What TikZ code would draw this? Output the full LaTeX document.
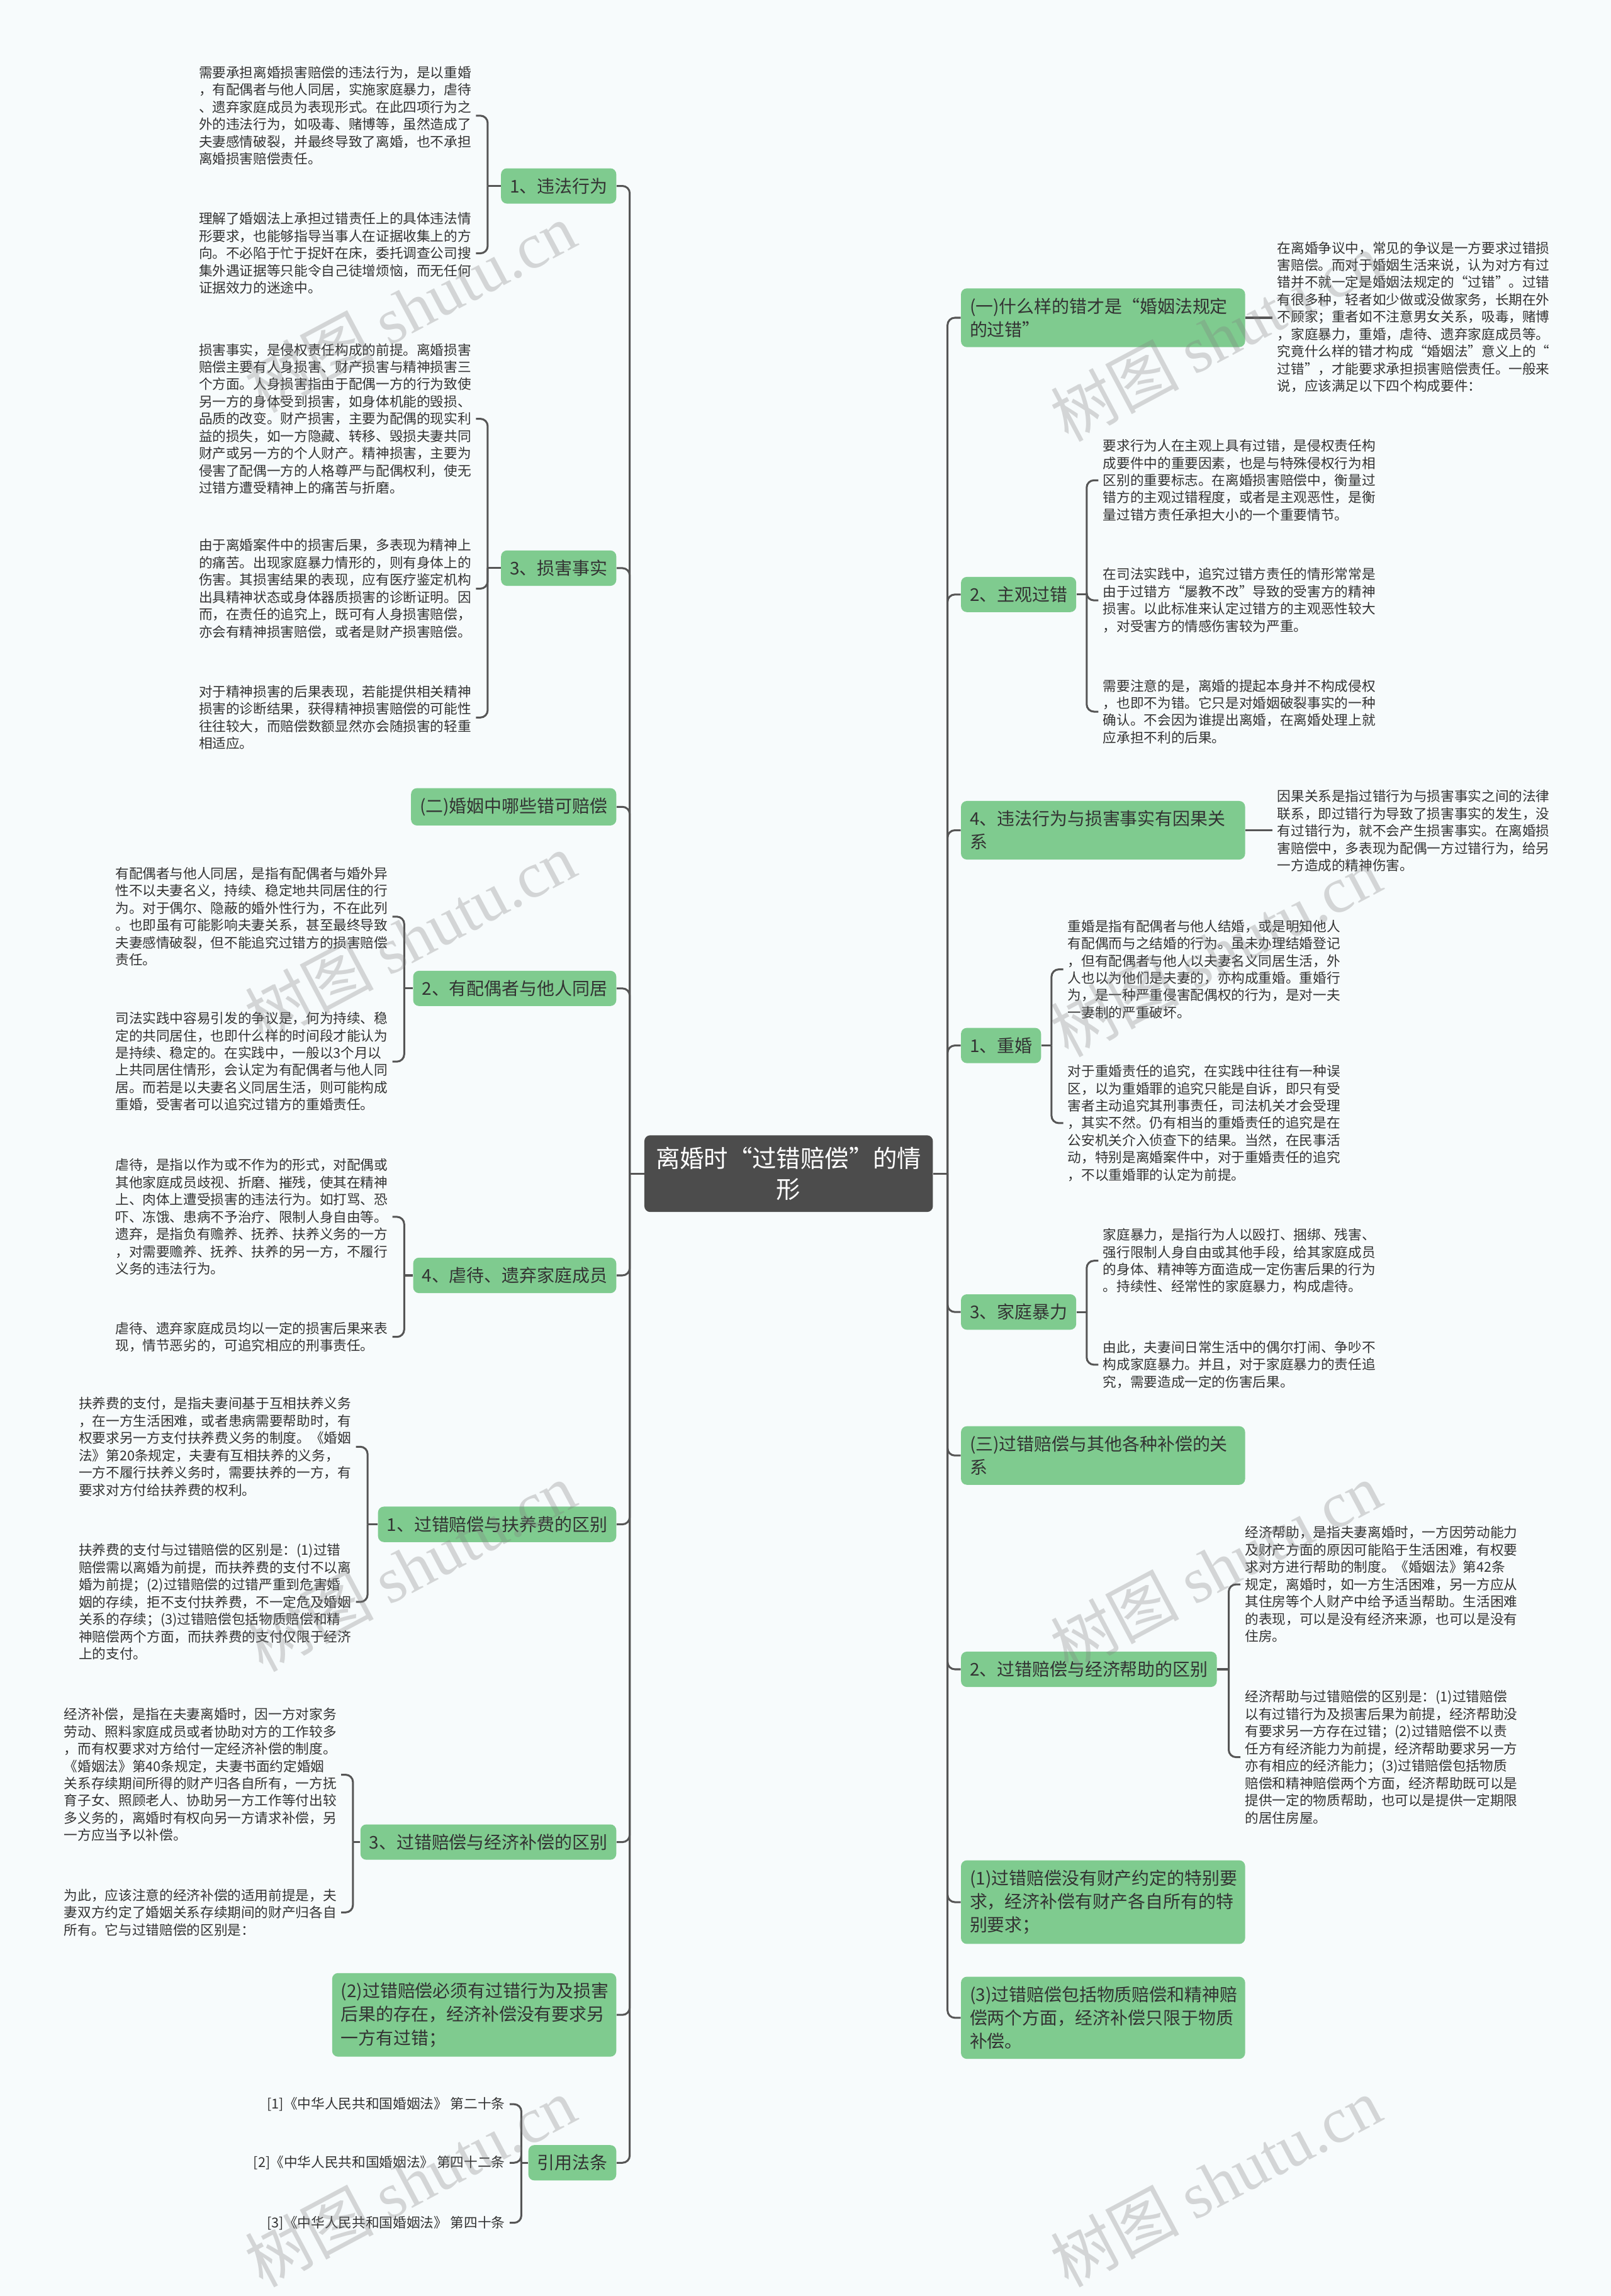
\documentclass[tikz,border=0pt]{standalone}
\usepackage{fontspec}
\setmainfont{Noto Sans CJK SC}
\newfontfamily\wmserif{Liberation Serif}
\usetikzlibrary{positioning}
\definecolor{bgpaper}{RGB}{247,251,252}
\definecolor{mapgreen}{RGB}{127,203,143}
\definecolor{rootgray}{RGB}{76,76,76}
\definecolor{linkgray}{RGB}{85,85,85}
\definecolor{inkgray}{RGB}{51,51,51}
\tikzset{
  topic/.style={fill=mapgreen,rounded corners=4pt,text=inkgray,inner xsep=6pt,inner ysep=6.5pt,font=\fontsize{12}{16}\selectfont},
  topicwide/.style={topic,text width=182pt,align=left},
  leaf/.style={text=inkgray,inner sep=3pt,align=left,font=\fontsize{9.3}{11.8}\selectfont},
  link/.style={draw=linkgray,line width=1.3pt,rounded corners=5pt}
}
\begin{document}
\begin{tikzpicture}[x=1pt,y=-1pt]
  \fill[bgpaper] (0,0) rectangle (1100,1568);
  \useasboundingbox (0,0) rectangle (1100,1568);

  % centre
  \node[fill=rootgray,text=white,rounded corners=4pt,text width=183pt,align=center,inner xsep=7pt,inner ysep=8pt,font=\fontsize{16.5}{21}\selectfont] (root) at (538.5,801.5) {离婚时“过错赔偿”的情\\形};
  \coordinate (lspine) at (430,0);
  \coordinate (rspine) at (647,0);

  % left topics
  \node[topic,anchor=east] (t1) at (421,127) {1、违法行为};
  \node[topic,anchor=east] (t2) at (421,388) {3、损害事实};
  \node[topic,anchor=east] (t3) at (421,551) {(二)婚姻中哪些错可赔偿};
  \node[topic,anchor=east] (t4) at (421,675) {2、有配偶者与他人同居};
  \node[topic,anchor=east] (t5) at (421,871) {4、虐待、遗弃家庭成员};
  \node[topic,anchor=east] (t6) at (421,1041) {1、过错赔偿与扶养费的区别};
  \node[topic,anchor=east] (t7) at (421,1258) {3、过错赔偿与经济补偿的区别};
  \node[topicwide,anchor=east] (t8) at (421,1376) {(2)过错赔偿必须有过错行为及损害\\后果的存在，经济补偿没有要求另\\一方有过错；};
  \node[topic,anchor=east] (t9) at (421,1477) {引用法条};

  % right topics
  \node[topicwide,anchor=west] (r1) at (656,217) {(一)什么样的错才是“婚姻法规定\\的过错”};
  \node[topic,anchor=west] (r2) at (656,406) {2、主观过错};
  \node[topicwide,anchor=west] (r3) at (656,567) {4、违法行为与损害事实有因果关\\系};
  \node[topic,anchor=west] (r4) at (656,714) {1、重婚};
  \node[topic,anchor=west] (r5) at (656,896) {3、家庭暴力};
  \node[topicwide,anchor=west] (r6) at (656,994) {(三)过错赔偿与其他各种补偿的关\\系};
  \node[topic,anchor=west] (r7) at (656,1140) {2、过错赔偿与经济帮助的区别};
  \node[topicwide,anchor=west] (r8) at (656,1299) {(1)过错赔偿没有财产约定的特别要\\求，经济补偿有财产各自所有的特\\别要求；};
  \node[topicwide,anchor=west] (r9) at (656,1378) {(3)过错赔偿包括物质赔偿和精神赔\\偿两个方面，经济补偿只限于物质\\补偿。};

  % left leaves
  \node[leaf,anchor=east] (va) at (325,79) {需要承担离婚损害赔偿的违法行为，是以重婚\\，有配偶者与他人同居，实施家庭暴力，虐待\\、遗弃家庭成员为表现形式。在此四项行为之\\外的违法行为，如吸毒、赌博等，虽然造成了\\夫妻感情破裂，并最终导致了离婚，也不承担\\离婚损害赔偿责任。};
  \node[leaf,anchor=east] (vb) at (325,173) {理解了婚姻法上承担过错责任上的具体违法情\\形要求，也能够指导当事人在证据收集上的方\\向。不必陷于忙于捉奸在床，委托调查公司搜\\集外遇证据等只能令自己徒增烦恼，而无任何\\证据效力的迷途中。};
  \node[leaf,anchor=east] (sa) at (325,286) {损害事实，是侵权责任构成的前提。离婚损害\\赔偿主要有人身损害、财产损害与精神损害三\\个方面。人身损害指由于配偶一方的行为致使\\另一方的身体受到损害，如身体机能的毁损、\\品质的改变。财产损害，主要为配偶的现实利\\益的损失，如一方隐藏、转移、毁损夫妻共同\\财产或另一方的个人财产。精神损害，主要为\\侵害了配偶一方的人格尊严与配偶权利，使无\\过错方遭受精神上的痛苦与折磨。};
  \node[leaf,anchor=east] (sb) at (325,402) {由于离婚案件中的损害后果，多表现为精神上\\的痛苦。出现家庭暴力情形的，则有身体上的\\伤害。其损害结果的表现，应有医疗鉴定机构\\出具精神状态或身体器质损害的诊断证明。因\\而，在责任的追究上，既可有人身损害赔偿，\\亦会有精神损害赔偿，或者是财产损害赔偿。};
  \node[leaf,anchor=east] (sc) at (325,490) {对于精神损害的后果表现，若能提供相关精神\\损害的诊断结果，获得精神损害赔偿的可能性\\往往较大，而赔偿数额显然亦会随损害的轻重\\相适应。};
  \node[leaf,anchor=east] (pa) at (268,626) {有配偶者与他人同居，是指有配偶者与婚外异\\性不以夫妻名义，持续、稳定地共同居住的行\\为。对于偶尔、隐蔽的婚外性行为，不在此列\\。也即虽有可能影响夫妻关系，甚至最终导致\\夫妻感情破裂，但不能追究过错方的损害赔偿\\责任。};
  \node[leaf,anchor=east] (pb) at (268,725) {司法实践中容易引发的争议是，何为持续、稳\\定的共同居住，也即什么样的时间段才能认为\\是持续、稳定的。在实践中，一般以3个月以\\上共同居住情形，会认定为有配偶者与他人同\\居。而若是以夫妻名义同居生活，则可能构成\\重婚，受害者可以追究过错方的重婚责任。};
  \node[leaf,anchor=east] (na) at (268,831) {虐待，是指以作为或不作为的形式，对配偶或\\其他家庭成员歧视、折磨、摧残，使其在精神\\上、肉体上遭受损害的违法行为。如打骂、恐\\吓、冻饿、患病不予治疗、限制人身自由等。\\遗弃，是指负有赡养、抚养、扶养义务的一方\\，对需要赡养、抚养、扶养的另一方，不履行\\义务的违法行为。};
  \node[leaf,anchor=east] (nb) at (268,913) {虐待、遗弃家庭成员均以一定的损害后果来表\\现，情节恶劣的，可追究相应的刑事责任。};
  \node[leaf,anchor=east] (fa) at (243,988) {扶养费的支付，是指夫妻间基于互相扶养义务\\，在一方生活困难，或者患病需要帮助时，有\\权要求另一方支付扶养费义务的制度。《婚姻\\法》第20条规定，夫妻有互相扶养的义务，\\一方不履行扶养义务时，需要扶养的一方，有\\要求对方付给扶养费的权利。};
  \node[leaf,anchor=east] (fb) at (243,1094) {扶养费的支付与过错赔偿的区别是：(1)过错\\赔偿需以离婚为前提，而扶养费的支付不以离\\婚为前提；(2)过错赔偿的过错严重到危害婚\\姻的存续，拒不支付扶养费，不一定危及婚姻\\关系的存续；(3)过错赔偿包括物质赔偿和精\\神赔偿两个方面，而扶养费的支付仅限于经济\\上的支付。};
  \node[leaf,anchor=east] (ja) at (233,1212) {经济补偿，是指在夫妻离婚时，因一方对家务\\劳动、照料家庭成员或者协助对方的工作较多\\，而有权要求对方给付一定经济补偿的制度。\\《婚姻法》第40条规定，夫妻书面约定婚姻\\关系存续期间所得的财产归各自所有，一方抚\\育子女、照顾老人、协助另一方工作等付出较\\多义务的，离婚时有权向另一方请求补偿，另\\一方应当予以补偿。};
  \node[leaf,anchor=east] (jb) at (233,1306) {为此，应该注意的经济补偿的适用前提是，夫\\妻双方约定了婚姻关系存续期间的财产归各自\\所有。它与过错赔偿的区别是：};
  \node[leaf,anchor=east] (law1) at (348,1437) {[1]《中华人民共和国婚姻法》 第二十条};
  \node[leaf,anchor=east] (law2) at (348,1477) {[2]《中华人民共和国婚姻法》 第四十二条};
  \node[leaf,anchor=east] (law3) at (348,1518) {[3]《中华人民共和国婚姻法》 第四十条};

  % right leaves
  \node[leaf,anchor=west] (g1) at (869,216.5) {在离婚争议中，常见的争议是一方要求过错损\\害赔偿。而对于婚姻生活来说，认为对方有过\\错并不就一定是婚姻法规定的“过错”。过错\\有很多种，轻者如少做或没做家务，长期在外\\不顾家；重者如不注意男女关系，吸毒，赌博\\，家庭暴力，重婚，虐待、遗弃家庭成员等。\\究竟什么样的错才构成“婚姻法”意义上的“\\过错”，才能要求承担损害赔偿责任。一般来\\说，应该满足以下四个构成要件：};
  \node[leaf,anchor=west] (z1) at (750,328) {要求行为人在主观上具有过错，是侵权责任构\\成要件中的重要因素，也是与特殊侵权行为相\\区别的重要标志。在离婚损害赔偿中，衡量过\\错方的主观过错程度，或者是主观恶性，是衡\\量过错方责任承担大小的一个重要情节。};
  \node[leaf,anchor=west] (z2) at (750,410) {在司法实践中，追究过错方责任的情形常常是\\由于过错方“屡教不改”导致的受害方的精神\\损害。以此标准来认定过错方的主观恶性较大\\，对受害方的情感伤害较为严重。};
  \node[leaf,anchor=west] (z3) at (750,486) {需要注意的是，离婚的提起本身并不构成侵权\\，也即不为错。它只是对婚姻破裂事实的一种\\确认。不会因为谁提出离婚，在离婚处理上就\\应承担不利的后果。};
  \node[leaf,anchor=west] (y1) at (869,567.5) {因果关系是指过错行为与损害事实之间的法律\\联系，即过错行为导致了损害事实的发生，没\\有过错行为，就不会产生损害事实。在离婚损\\害赔偿中，多表现为配偶一方过错行为，给另\\一方造成的精神伤害。};
  \node[leaf,anchor=west] (c1) at (726,662) {重婚是指有配偶者与他人结婚，或是明知他人\\有配偶而与之结婚的行为。虽未办理结婚登记\\，但有配偶者与他人以夫妻名义同居生活，外\\人也以为他们是夫妻的，亦构成重婚。重婚行\\为，是一种严重侵害配偶权的行为，是对一夫\\一妻制的严重破坏。};
  \node[leaf,anchor=west] (c2) at (726,767) {对于重婚责任的追究，在实践中往往有一种误\\区，以为重婚罪的追究只能是自诉，即只有受\\害者主动追究其刑事责任，司法机关才会受理\\，其实不然。仍有相当的重婚责任的追究是在\\公安机关介入侦查下的结果。当然，在民事活\\动，特别是离婚案件中，对于重婚责任的追究\\，不以重婚罪的认定为前提。};
  \node[leaf,anchor=west] (h1) at (750,861) {家庭暴力，是指行为人以殴打、捆绑、残害、\\强行限制人身自由或其他手段，给其家庭成员\\的身体、精神等方面造成一定伤害后果的行为\\。持续性、经常性的家庭暴力，构成虐待。};
  \node[leaf,anchor=west] (h2) at (750,932) {由此，夫妻间日常生活中的偶尔打闹、争吵不\\构成家庭暴力。并且，对于家庭暴力的责任追\\究，需要造成一定的伤害后果。};
  \node[leaf,anchor=west] (e1) at (847,1082) {经济帮助，是指夫妻离婚时，一方因劳动能力\\及财产方面的原因可能陷于生活困难，有权要\\求对方进行帮助的制度。《婚姻法》第42条\\规定，离婚时，如一方生活困难，另一方应从\\其住房等个人财产中给予适当帮助。生活困难\\的表现，可以是没有经济来源，也可以是没有\\住房。};
  \node[leaf,anchor=west] (e2) at (847,1200) {经济帮助与过错赔偿的区别是：(1)过错赔偿\\以有过错行为及损害后果为前提，经济帮助没\\有要求另一方存在过错；(2)过错赔偿不以责\\任方有经济能力为前提，经济帮助要求另一方\\亦有相应的经济能力；(3)过错赔偿包括物质\\赔偿和精神赔偿两个方面，经济帮助既可以是\\提供一定的物质帮助，也可以是提供一定期限\\的居住房屋。};

  % bracket columns
  \coordinate (k1) at (333,0);
  \coordinate (k4) at (276,0);
  \coordinate (k6) at (251,0);
  \coordinate (k7) at (241,0);
  \coordinate (k9) at (356,0);
  \coordinate (m2) at (742,0);
  \coordinate (m4) at (718,0);
  \coordinate (m7) at (839,0);

  % spines
  \foreach \t in {t1,t2,t3,t4,t5,t6,t7,t8,t9}
    \draw[link] (\t.east) -| (lspine |- root.west);
  \draw[link] (root.west) -- (lspine |- root.west);
  \foreach \r in {r1,r2,r3,r4,r5,r6,r7,r8,r9}
    \draw[link] (\r.west) -| (rspine |- root.east);
  \draw[link] (root.east) -- (rspine |- root.east);

  % brackets
  \foreach \l/\t/\k in {va/t1/k1,vb/t1/k1,sa/t2/k1,sb/t2/k1,sc/t2/k1,pa/t4/k4,pb/t4/k4,na/t5/k4,nb/t5/k4,fa/t6/k6,fb/t6/k6,ja/t7/k7,jb/t7/k7,law1/t9/k9,law2/t9/k9,law3/t9/k9}
    \draw[link] (\l.east) -| (\k |- \t.west);
  \foreach \t/\k in {t1/k1,t2/k1,t4/k4,t5/k4,t6/k6,t7/k7,t9/k9}
    \draw[link] (\t.west) -- (\k |- \t.west);
  \foreach \l/\r/\k in {z1/r2/m2,z2/r2/m2,z3/r2/m2,c1/r4/m4,c2/r4/m4,h1/r5/m2,h2/r5/m2,e1/r7/m7,e2/r7/m7}
    \draw[link] (\l.west) -| (\k |- \r.east);
  \foreach \r/\k in {r2/m2,r4/m4,r5/m2,r7/m7}
    \draw[link] (\r.east) -- (\k |- \r.east);
  \draw[link] (r1.east) -- (r1.east -| g1.west);
  \draw[link] (r3.east) -- (r3.east -| y1.west);

  % watermark
  \foreach \wx/\wy [count=\i] in {280/210,830/230,280/640,830/650,280/1070,830/1070,280/1490,830/1490}
    \node[rotate=28,text=gray,text opacity=.3,font=\fontsize{44}{44}\selectfont] (wm\i) at (\wx,\wy) {树图 {\wmserif shutu.cn}};
\end{tikzpicture}
\end{document}
